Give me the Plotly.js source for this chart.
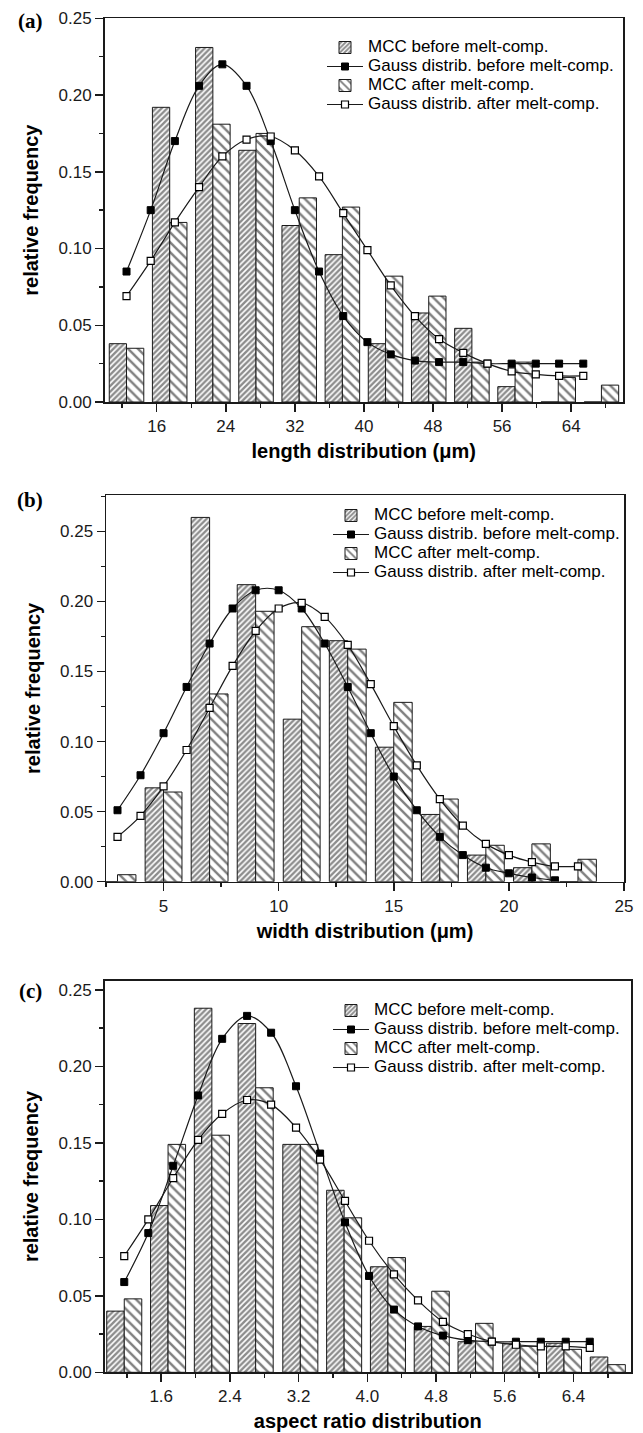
<!DOCTYPE html>
<html>
<head>
<meta charset="utf-8">
<script src="https://cdn.plot.ly/plotly-3.0.1.min.js"></script>
<style>html,body{margin:0;padding:0;background:#fff;}#chart{width:643px;height:1433px;}</style>
</head>
<body>
<div id="chart"></div>
<script>
// ---------- data: panel (a) length distribution ----------
const binsA = [12.5, 17.5, 22.5, 27.5, 32.5, 37.5, 42.5, 47.5, 52.5, 57.5, 62.5, 67.5];
const mccBeforeA = [0.038, 0.192, 0.231, 0.164, 0.115, 0.096, 0.038, 0.058, 0.048, 0.010, 0, 0];
const mccAfterA = [0.035, 0.117, 0.181, 0.175, 0.133, 0.127, 0.082, 0.069, 0.026, 0.026, 0.016, 0.011];
const gaussXA = [12.5, 15.3, 18.1, 20.9, 23.6, 26.4, 29.2, 32.0, 34.8, 37.6, 40.4, 43.1, 45.9, 48.7, 51.5, 54.3, 57.1, 59.9, 62.6, 65.4];
const gaussBeforeA = [0.085, 0.125, 0.170, 0.206, 0.220, 0.206, 0.170, 0.125, 0.085, 0.056, 0.039, 0.031, 0.027, 0.026, 0.026, 0.025, 0.025, 0.025, 0.025, 0.025];
const gaussAfterA = [0.069, 0.092, 0.117, 0.140, 0.160, 0.171, 0.173, 0.164, 0.147, 0.123, 0.099, 0.076, 0.056, 0.041, 0.032, 0.025, 0.020, 0.018, 0.017, 0.017];

// ---------- data: panel (b) width distribution ----------
const binsB = [3, 5, 7, 9, 11, 13, 15, 17, 19, 21, 23];
const mccBeforeB = [0, 0.067, 0.260, 0.212, 0.116, 0.172, 0.096, 0.048, 0.019, 0.010, 0];
const mccAfterB = [0.005, 0.064, 0.134, 0.193, 0.182, 0.166, 0.128, 0.059, 0.026, 0.027, 0.016];
const gaussXBefB = [3, 4, 5, 6, 7, 8, 9, 10, 11, 12, 13, 14, 15, 16, 17, 18, 19, 20, 21, 22];
const gaussBeforeB = [0.051, 0.076, 0.106, 0.139, 0.170, 0.195, 0.208, 0.208, 0.195, 0.170, 0.139, 0.106, 0.075, 0.051, 0.032, 0.019, 0.010, 0.006, 0.003, 0.001];
const gaussXAftB = [3, 4, 5, 6, 7, 8, 9, 10, 11, 12, 13, 14, 15, 16, 17, 18, 19, 20, 21, 22, 23];
const gaussAfterB = [0.032, 0.047, 0.068, 0.094, 0.124, 0.154, 0.179, 0.195, 0.199, 0.189, 0.169, 0.141, 0.111, 0.083, 0.059, 0.040, 0.027, 0.019, 0.014, 0.011, 0.011];

// ---------- data: panel (c) aspect ratio distribution ----------
const binsC = [1.17, 1.68, 2.19, 2.70, 3.22, 3.73, 4.24, 4.75, 5.26, 5.78, 6.29, 6.80];
const mccBeforeC = [0.040, 0.109, 0.238, 0.228, 0.149, 0.119, 0.069, 0.030, 0.020, 0.019, 0.019, 0.010];
const mccAfterC = [0.048, 0.149, 0.155, 0.186, 0.149, 0.101, 0.075, 0.053, 0.032, 0.017, 0.015, 0.005];
const gaussXC = [1.17, 1.45, 1.74, 2.03, 2.31, 2.60, 2.88, 3.17, 3.45, 3.74, 4.02, 4.31, 4.59, 4.88, 5.17, 5.45, 5.73, 6.02, 6.31, 6.59];
const gaussBeforeC = [0.059, 0.091, 0.135, 0.181, 0.218, 0.233, 0.222, 0.187, 0.143, 0.098, 0.063, 0.041, 0.030, 0.024, 0.021, 0.020, 0.020, 0.020, 0.020, 0.020];
const gaussAfterC = [0.076, 0.100, 0.127, 0.152, 0.169, 0.178, 0.175, 0.160, 0.139, 0.112, 0.086, 0.064, 0.047, 0.033, 0.025, 0.020, 0.018, 0.017, 0.017, 0.016];

// ---------- labels ----------
const seriesNames = ['MCC before melt-comp.', 'Gauss distrib. before melt-comp.', 'MCC after melt-comp.', 'Gauss distrib. after melt-comp.'];
const xTitles = ['length distribution (μm)', 'width distribution (μm)', 'aspect ratio distribution'];
const yTitle = 'relative frequency';
const panelLabels = ['(a)', '(b)', '(c)'];

// ---------- styling ----------
const W = 643, H = 1433;
const FONT = '"Liberation Sans", Arial, Helvetica, sans-serif';
const INK = '#1a1a1a';
const px = v => v / W;
const py = v => 1 - v / H;

const patBefore = {shape: '/', fgcolor: '#1a1a1a', bgcolor: '#fff', size: 4, solidity: 0.6, fillmode: 'overlay'};
const patAfter = {shape: '\\', fgcolor: '#000', bgcolor: '#fff', size: 7, solidity: 0.34, fillmode: 'overlay'};

const legendName = n => '<span style="font-size:17px">' + n + '</span>';

function panelTraces(idx, bins, before, after, gxB, gB, gxA, gA) {
  const sfx = idx === 0 ? '' : String(idx + 1);
  const xa = 'x' + sfx, ya = 'y' + sfx, lg = 'legend' + sfx;
  return [
    {type: 'bar', x: bins, y: before, name: legendName(seriesNames[0]), xaxis: xa, yaxis: ya, legend: lg,
     marker: {color: '#fff', pattern: patBefore, line: {color: INK, width: 1}}},
    {type: 'scatter', mode: 'lines+markers', x: gxB, y: gB, name: legendName(seriesNames[1]), xaxis: xa, yaxis: ya, legend: lg,
     line: {color: INK, width: 1.2, shape: 'spline', smoothing: 1},
     marker: {symbol: 'square', size: 7, color: '#000', line: {color: '#000', width: 1}}},
    {type: 'bar', x: bins, y: after, name: legendName(seriesNames[2]), xaxis: xa, yaxis: ya, legend: lg,
     marker: {color: '#fff', pattern: patAfter, line: {color: INK, width: 1}}},
    {type: 'scatter', mode: 'lines+markers', x: gxA, y: gA, name: legendName(seriesNames[3]), xaxis: xa, yaxis: ya, legend: lg,
     line: {color: INK, width: 1.2, shape: 'spline', smoothing: 1},
     marker: {symbol: 'square', size: 7, color: '#fff', line: {color: '#000', width: 1.2}}}
  ];
}

const data = [].concat(
  panelTraces(0, binsA, mccBeforeA, mccAfterA, gaussXA, gaussBeforeA, gaussXA, gaussAfterA),
  panelTraces(1, binsB, mccBeforeB, mccAfterB, gaussXBefB, gaussBeforeB, gaussXAftB, gaussAfterB),
  panelTraces(2, binsC, mccBeforeC, mccAfterC, gaussXC, gaussBeforeC, gaussXC, gaussAfterC)
);

function axis(extra) {
  return Object.assign({
    showline: true, linecolor: INK, linewidth: 1.5, mirror: true,
    ticks: 'outside', ticklen: 8, tickwidth: 1.5, tickcolor: INK,
    showgrid: false, zeroline: false, fixedrange: true,
    tickfont: {family: FONT, size: 17, color: INK}
  }, extra);
}
function xTitle(t) { return {text: '<b>' + t + '</b>', font: {family: FONT, size: 20, color: '#000'}, standoff: 9}; }
function yTitleObj() { return {text: '<b>' + yTitle + '</b>', font: {family: FONT, size: 20, color: '#000'}, standoff: 14}; }
const minorTicks = d => ({dtick: d, ticks: 'outside', ticklen: 4, tickwidth: 1.5, tickcolor: INK, showgrid: false});

function legendAt(left, top) {
  return {x: px(left), xanchor: 'left', y: py(top), yanchor: 'top', bgcolor: 'rgba(0,0,0,0)', borderwidth: 0,
          font: {family: FONT, size: 11, color: '#000'}, itemwidth: 36, tracegroupgap: 0};
}

const layout = {
  width: W, height: H, autosize: false,
  margin: {l: 0, r: 0, t: 0, b: 0},
  paper_bgcolor: '#fff', plot_bgcolor: '#fff',
  barmode: 'group', bargap: 0.2, bargroupgap: 0,
  showlegend: true,
  // panel (a)
  xaxis: axis({domain: [px(104.5), px(623)], anchor: 'y', range: [9.95, 70.0], tick0: 0, dtick: 8,
               minor: minorTicks(4), title: xTitle(xTitles[0])}),
  yaxis: axis({domain: [py(402), py(18.3)], anchor: 'x', range: [0, 0.25], dtick: 0.05, tickformat: '.2f',
               minor: minorTicks(0.025), title: yTitleObj()}),
  // panel (b)
  xaxis2: axis({domain: [px(106), px(624)], anchor: 'y2', range: [2.5, 25], tick0: 0, dtick: 5,
                minor: minorTicks(2.5), title: xTitle(xTitles[1])}),
  yaxis2: axis({domain: [py(881.7), py(495)], anchor: 'x2', range: [0, 0.276], dtick: 0.05, tickformat: '.2f',
                minor: minorTicks(0.025), title: yTitleObj()}),
  // panel (c)
  xaxis3: axis({domain: [px(104.5), px(631)], anchor: 'y3', range: [0.94, 7.07], tick0: 0, dtick: 0.8, tickformat: '.1f',
                minor: minorTicks(0.4), title: xTitle(xTitles[2])}),
  yaxis3: axis({domain: [py(1372.3), py(980.7)], anchor: 'x3', range: [0, 0.256], dtick: 0.05, tickformat: '.2f',
                minor: minorTicks(0.025), title: yTitleObj()}),
  legend: legendAt(322, 33),
  legend2: legendAt(328, 501),
  legend3: legendAt(328, 996),
  annotations: [
    {text: '<b>' + panelLabels[0] + '</b>', xref: 'paper', yref: 'paper', x: px(30), y: py(21), xanchor: 'center', yanchor: 'middle', showarrow: false, font: {family: '"Liberation Serif", "Times New Roman", serif', size: 21, color: '#000'}},
    {text: '<b>' + panelLabels[1] + '</b>', xref: 'paper', yref: 'paper', x: px(30), y: py(500), xanchor: 'center', yanchor: 'middle', showarrow: false, font: {family: '"Liberation Serif", "Times New Roman", serif', size: 21, color: '#000'}},
    {text: '<b>' + panelLabels[2] + '</b>', xref: 'paper', yref: 'paper', x: px(30), y: py(991), xanchor: 'center', yanchor: 'middle', showarrow: false, font: {family: '"Liberation Serif", "Times New Roman", serif', size: 21, color: '#000'}}
  ]
};

Plotly.newPlot('chart', data, layout, {staticPlot: true, displayModeBar: false});
</script>
</body>
</html>
